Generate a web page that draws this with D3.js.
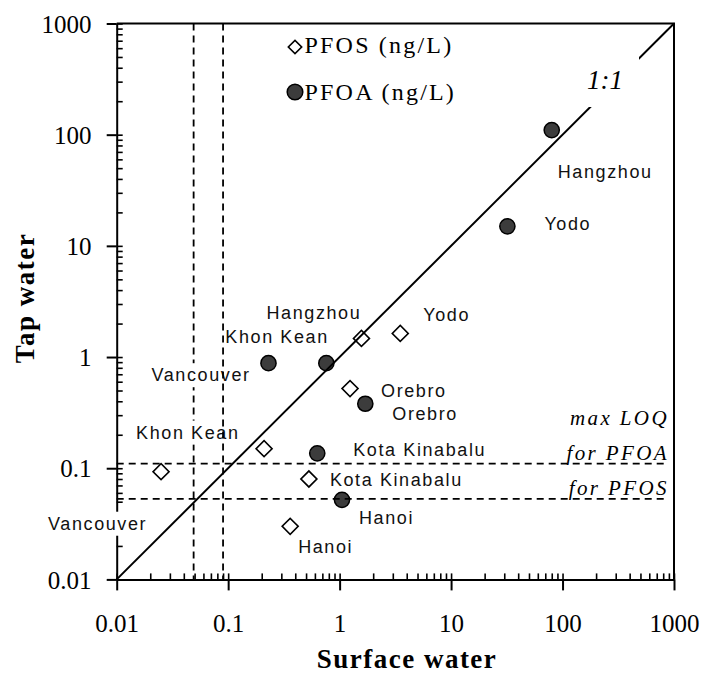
<!DOCTYPE html>
<html>
<head>
<meta charset="utf-8">
<script src="https://cdn.jsdelivr.net/npm/d3@7"></script>
<style>
  body { margin: 0; background: #fff; }
  svg { display: block; }
</style>
</head>
<body>
<svg id="chart" width="703" height="674"></svg>
<script>
// Perfluorinated compounds: surface water vs tap water (ng/L), log-log
const sites       = ["Hangzhou", "Yodo", "Khon Kean", "Vancouver", "Orebro", "Kota Kinabalu", "Hanoi"];
const pfosSurface = [1.57, 3.5, 0.21, 0.025, 1.24, 0.53, 0.36];
const pfosTap     = [1.47, 1.63, 0.15, 0.093, 0.52, 0.08, 0.03];
const pfoaSurface = [80, 32, 0.76, 0.23, 1.7, 0.63, 1.05];
const pfoaTap     = [110, 15, 0.88, 0.88, 0.38, 0.136, 0.052];

// limits of quantification
const loqSurface  = [0.049, 0.09];
const loqTap      = [0.11, 0.053];      // PFOA, PFOS
const loqTapNames = ["for PFOA", "for PFOS"];

const axisTicks  = [0.01, 0.1, 1, 10, 100, 1000];
const tickLabels = ["0.01", "0.1", "1", "10", "100", "1000"];
const oneToOne   = [0.01, 1000];

const legendNames = ["PFOS (ng/L)", "PFOA (ng/L)"];

// label placement relative to each marker (px), same order as sites
const pfosLabelShift = [[-95, -19], [23, -12], [-128, -10], [-113, 58], [31, 8], [21, 7], [8, 27]];
const pfoaLabelShift = [[6, 48], [37, 4], [-101, -20], [-117, 18], [27, 16], [36, 3], [17, 24]];

const svg = d3.select("#chart");
const plotL = 116.7, plotR = 674, plotT = 23.5, plotB = 579.4;

const x = d3.scaleLog().domain([0.01, 1000]).range([plotL, plotR]);
const y = d3.scaleLog().domain([0.01, 1000]).range([plotB, plotT]);

const minorTicks = [];
for (let e = -2; e < 3; e++) for (let k = 1; k < 10; k++) minorTicks.push(k * Math.pow(10, e));
minorTicks.push(1000);

const serif = "'Liberation Serif', 'Times New Roman', serif";
const sans = "'Liberation Sans', Arial, sans-serif";

function styleAxis(g, width) {
  g.selectAll("path.domain").attr("stroke", "#000").attr("stroke-width", 2);
  g.selectAll(".tick line").attr("stroke", "#000").attr("stroke-width", width);
  g.selectAll(".tick text").attr("fill", "#000").attr("font-family", serif).attr("font-size", 25);
}

// ---- axes ----
const gx = svg.append("g").attr("transform", `translate(0,${plotB})`);
gx.call(d3.axisBottom(x).tickValues(axisTicks)
  .tickFormat(d => tickLabels[axisTicks.indexOf(d)])
  .tickSize(11).tickSizeOuter(0).tickPadding(23.5));
styleAxis(gx, 2);
const gxMinor = svg.append("g").attr("transform", `translate(0,${plotB})`);
gxMinor.call(d3.axisTop(x).tickValues(minorTicks).tickFormat("").tickSize(6).tickSizeOuter(0));
gxMinor.select("path.domain").remove();
styleAxis(gxMinor, 1.6);

const gy = svg.append("g").attr("transform", `translate(${plotL},0)`);
gy.call(d3.axisLeft(y).tickValues(axisTicks)
  .tickFormat(d => tickLabels[axisTicks.indexOf(d)])
  .tickSize(10).tickSizeOuter(0).tickPadding(15.3));
styleAxis(gy, 2);
gy.selectAll(".tick text").attr("dy", "0.35em");
const gyMinor = svg.append("g").attr("transform", `translate(${plotL},0)`);
gyMinor.call(d3.axisRight(y).tickValues(minorTicks).tickFormat("").tickSize(6).tickSizeOuter(0));
gyMinor.select("path.domain").remove();
styleAxis(gyMinor, 1.6);

// frame: top and right edges
svg.append("path")
  .attr("d", `M${plotL},${plotT}H${plotR}V${plotB}`)
  .attr("fill", "none").attr("stroke", "#000").attr("stroke-width", 2);

// dashed limit line
function vDash(v) {
  svg.append("line")
    .attr("x1", x(v)).attr("x2", x(v)).attr("y1", plotT).attr("y2", plotB)
    .attr("stroke", "#000").attr("stroke-width", 1.8).attr("stroke-dasharray", "7,5");
}
vDash(loqSurface[0]);

// ---- site labels on white patches ----
function siteLabel(px, py, shift, name) {
  const g = svg.append("g");
  const t = g.append("text")
    .attr("x", px + shift[0]).attr("y", py + shift[1])
    .attr("font-family", sans).attr("font-size", 18)
    .attr("letter-spacing", 1.6).attr("fill", "#111")
    .text(name);
  const b = t.node().getBBox();
  g.insert("rect", "text")
    .attr("x", b.x - 2).attr("y", b.y - 2)
    .attr("width", b.width + 2).attr("height", b.height + 4)
    .attr("fill", "#fff");
}
sites.forEach((s, i) => {
  siteLabel(x(pfosSurface[i]), y(pfosTap[i]), pfosLabelShift[i], s);
  siteLabel(x(pfoaSurface[i]), y(pfoaTap[i]), pfoaLabelShift[i], s);
});

// ---- markers ----
const diamond = d3.symbol().type(d3.symbolSquare).size(128);
svg.append("g").selectAll("path")
  .data(sites.map((s, i) => [pfosSurface[i], pfosTap[i]]))
  .join("path")
  .attr("d", diamond)
  .attr("transform", d => `translate(${x(d[0])},${y(d[1])}) rotate(45)`)
  .attr("fill", "#fff").attr("stroke", "#000").attr("stroke-width", 1.6);

svg.append("g").selectAll("circle")
  .data(sites.map((s, i) => [pfoaSurface[i], pfoaTap[i]]))
  .join("circle")
  .attr("cx", d => x(d[0])).attr("cy", d => y(d[1])).attr("r", 7.6)
  .attr("fill", "#3c3c3c").attr("stroke", "#000").attr("stroke-width", 1.5);

// remaining limit lines
vDash(loqSurface[1]);
loqTap.forEach(v => {
  svg.append("line")
    .attr("x1", plotL).attr("x2", plotR - 6).attr("y1", y(v)).attr("y2", y(v))
    .attr("stroke", "#000").attr("stroke-width", 1.8).attr("stroke-dasharray", "7,5");
});

// 1:1 line
svg.append("line")
  .attr("x1", x(oneToOne[0])).attr("y1", y(oneToOne[0]))
  .attr("x2", x(oneToOne[1])).attr("y2", y(oneToOne[1]))
  .attr("stroke", "#000").attr("stroke-width", 2);

const ratioG = svg.append("g");
const ratioT = ratioG.append("text")
  .attr("x", 587).attr("y", 89)
  .attr("font-family", serif).attr("font-style", "italic").attr("font-size", 27)
  .attr("fill", "#000").text("1:1");
const rb = ratioT.node().getBBox();
ratioG.insert("rect", "text")
  .attr("x", rb.x - 6).attr("y", rb.y - 10)
  .attr("width", rb.width + 22).attr("height", rb.height + 22)
  .attr("fill", "#fff");

// LOQ annotation
const loqText = svg.append("g")
  .attr("font-family", serif).attr("font-style", "italic").attr("font-size", 21)
  .attr("letter-spacing", 2.4).attr("fill", "#000").attr("text-anchor", "end");
loqText.append("text").attr("x", plotR - 5).attr("y", 425).text("max LOQ");
loqTap.forEach((v, i) => {
  loqText.append("text").attr("x", plotR - 5).attr("y", y(v) - 3.5).text(loqTapNames[i]);
});

// ---- legend ----
const legend = svg.append("g").attr("transform", "translate(295,47)");
legend.append("path")
  .attr("d", d3.symbol().type(d3.symbolSquare).size(90))
  .attr("transform", "rotate(45)")
  .attr("fill", "#fff").attr("stroke", "#000").attr("stroke-width", 1.6);
legend.append("circle").attr("cx", 0).attr("cy", 45).attr("r", 7.8)
  .attr("fill", "#3c3c3c").attr("stroke", "#000").attr("stroke-width", 1.5);
legendNames.forEach((n, i) => {
  legend.append("text").attr("x", 9.5).attr("y", 5.5 + i * 47.7)
    .attr("font-family", serif).attr("font-size", 24).attr("letter-spacing", 2.2)
    .attr("fill", "#000").text(n);
});

// ---- axis titles ----
svg.append("text")
  .attr("x", 407).attr("y", 668)
  .attr("text-anchor", "middle")
  .attr("font-family", serif).attr("font-weight", "bold").attr("font-size", 27)
  .attr("letter-spacing", 1.5).attr("fill", "#000")
  .text("Surface water");
svg.append("text")
  .attr("transform", "translate(33.5,298) rotate(-90)")
  .attr("text-anchor", "middle")
  .attr("font-family", serif).attr("font-weight", "bold").attr("font-size", 27)
  .attr("letter-spacing", 1.5).attr("fill", "#000")
  .text("Tap water");
</script>
</body>
</html>
